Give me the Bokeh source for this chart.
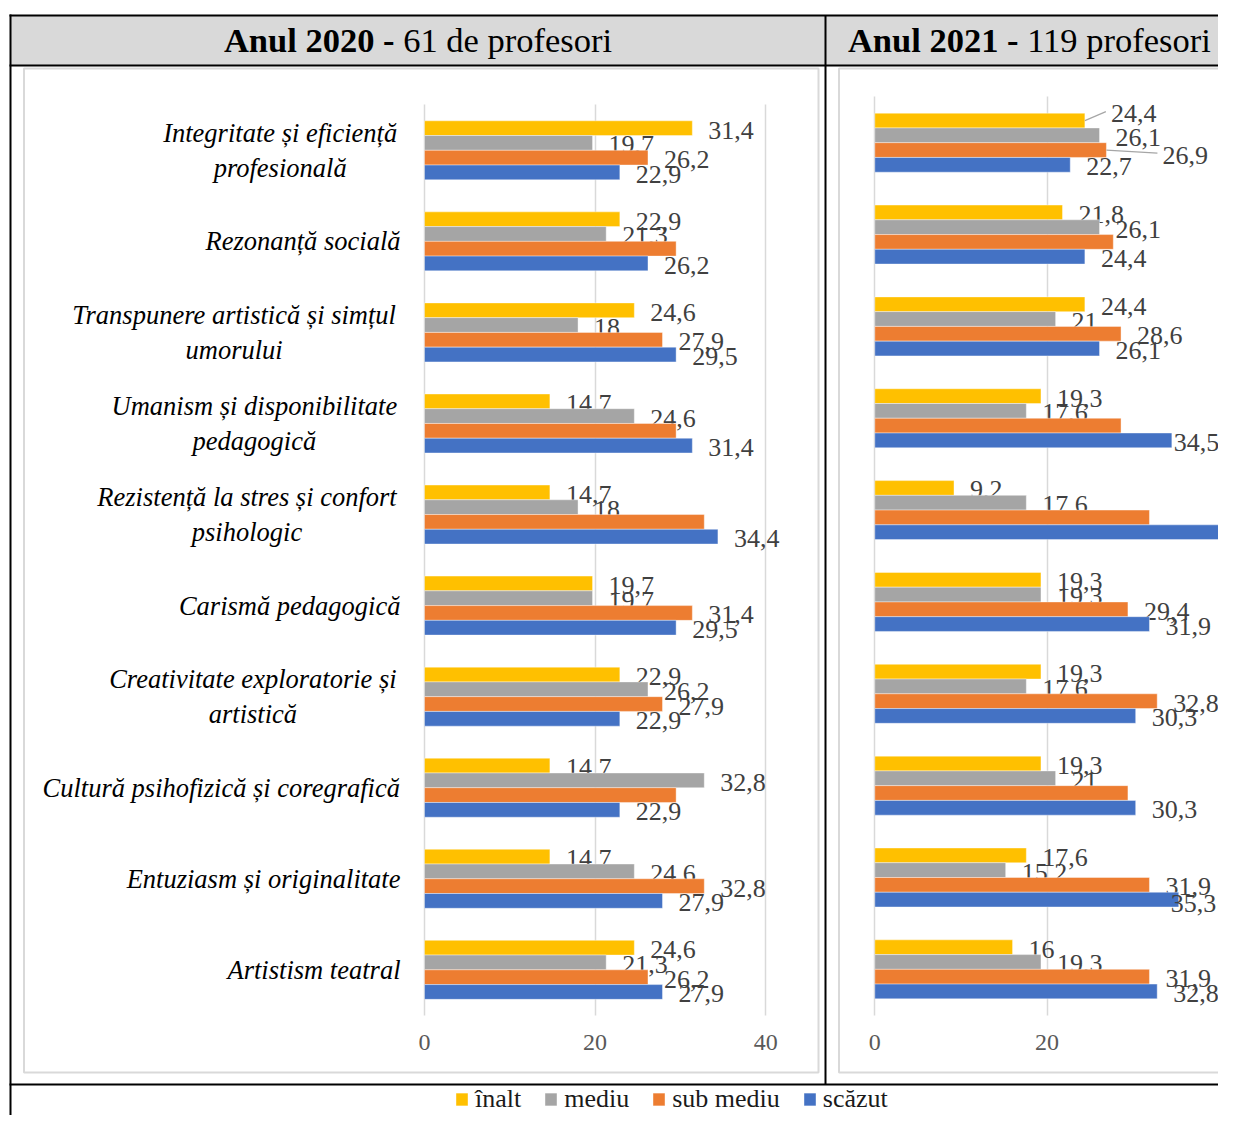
from bokeh.plotting import figure
from bokeh.models import (Range1d, ColumnDataSource, FixedTicker, Grid, LinearAxis,
                          Legend, LegendItem)
from bokeh.transform import dodge
from bokeh.core.properties import value
from bokeh.embed import file_html
from bokeh.resources import INLINE

# ---------------- data ----------------
CATEGORIES = [
    "Integritate și eficiență\nprofesională",
    "Rezonanță socială",
    "Transpunere artistică și simțul\numorului",
    "Umanism și disponibilitate\npedagogică",
    "Rezistență la stres și confort\npsihologic",
    "Carismă pedagogică",
    "Creativitate exploratorie și\nartistică",
    "Cultură psihofizică și coregrafică",
    "Entuziasm și originalitate",
    "Artistism teatral",
]
SERIES = ["înalt", "mediu", "sub mediu", "scăzut"]
TICKS = [0, 20, 40]
HEADER_BOLD = ["Anul 2020 -", "Anul 2021 -"]
HEADER_REG = ["61 de profesori", "119 profesori"]

Y2020_INALT = [31.4, 22.9, 24.6, 14.7, 14.7, 19.7, 22.9, 14.7, 14.7, 24.6]
Y2020_MEDIU = [19.7, 21.3, 18, 24.6, 18, 19.7, 26.2, 32.8, 24.6, 21.3]
Y2020_SUB = [26.2, 29.5, 27.9, 29.5, 32.8, 31.4, 27.9, 29.5, 32.8, 26.2]
Y2020_SCAZUT = [22.9, 26.2, 29.5, 31.4, 34.4, 29.5, 22.9, 22.9, 27.9, 27.9]

Y2021_INALT = [24.4, 21.8, 24.4, 19.3, 9.2, 19.3, 19.3, 19.3, 17.6, 16]
Y2021_MEDIU = [26.1, 26.1, 21, 17.6, 17.6, 19.3, 17.6, 21, 15.2, 19.3]
Y2021_SUB = [26.9, 27.7, 28.6, 28.6, 31.9, 29.4, 32.8, 29.4, 31.9, 31.9]
Y2021_SCAZUT = [22.7, 24.4, 26.1, 34.5, 41.2, 31.9, 30.3, 30.3, 35.3, 32.8]

# data labels that are not shown in the original (per series: category indices)
HIDDEN_2020 = {"sub mediu": [1, 3, 4, 7]}
HIDDEN_2021 = {"sub mediu": [1, 3, 4, 7], "scăzut": [4]}

# ---------------- style / layout ----------------
SERIF = "Liberation Serif"
COLORS = ["#FFC000", "#A5A5A5", "#ED7D31", "#4472C4"]
GRID_COLOR = "#D9D9D9"

X0, Y0 = 0, 0
W, H = 1218, 1115
X1, Y1 = X0 + W, Y0 + H

# Times / Liberation Serif advance widths (1/1000 em)
REG_W = {" ": 250, "-": 333, "d": 500, "e": 444, "p": 500, "r": 333, "o": 500,
         "f": 333, "s": 389, "i": 278}
BOLD_W = {" ": 250, "-": 333, "A": 722, "n": 556, "u": 556, "l": 278}
ITAL_W = {" ": 250, "a": 500, "b": 500, "c": 444, "d": 500, "e": 444, "f": 278,
          "g": 500, "h": 500, "i": 278, "j": 278, "k": 444, "l": 278, "m": 722,
          "n": 500, "o": 500, "p": 500, "q": 500, "r": 389, "s": 389, "t": 278,
          "u": 500, "v": 444, "w": 667, "x": 444, "y": 444, "z": 389,
          "ă": 500, "â": 500, "î": 278, "ș": 389, "ț": 278,
          "A": 611, "C": 667, "E": 611, "I": 333, "R": 611, "T": 556, "U": 722}


def text_w(s, table, size):
    return sum(table.get(c, 500) for c in s) * size / 1000.0


def fmt(v):
    return str(int(v)) if float(v).is_integer() else f"{v:.1f}".replace(".", ",")


CHARTS = [
    dict(name="L", series=[Y2020_INALT, Y2020_MEDIU, Y2020_SUB, Y2020_SCAZUT],
         hidden=HIDDEN_2020, x0=424.0, ppu=8.53, y0=149.8, pitch=91.06,
         nudges={}, leaders=[], cat_labels=True),
    dict(name="R", series=[Y2021_INALT, Y2021_MEDIU, Y2021_SUB, Y2021_SCAZUT],
         hidden=HIDDEN_2021, x0=874.3, ppu=8.61, y0=142.2, pitch=91.85,
         nudges={(0, "înalt"): (10, -9), (0, "sub mediu"): (40, 3),
                 (3, "scăzut"): (-14, 0), (8, "scăzut"): (-24, 2)},
         leaders=[(0, "înalt"), (0, "sub mediu")],
         cat_labels=False),
]
BAR_PX = 14.75
LABEL_GAP = 16

p = figure(width=W, height=H, x_range=Range1d(X0, X1), y_range=Range1d(Y1, Y0),
           x_axis_type=None, y_axis_type=None, toolbar_location=None,
           output_backend="svg", min_border=0, outline_line_color=None,
           background_fill_color="white", border_fill_color="white")

# ---------------- table frame ----------------
p.quad(left=[10], right=[X1 + 10], top=[15], bottom=[65],
       fill_color="#D9D9D9", line_color=None)
p.quad(left=[23.5, 838.5], right=[818, X1 + 20], top=[68, 68], bottom=[1072, 1072],
       fill_color=None, line_color=GRID_COLOR, line_width=2)
p.segment(x0=[9, 9, 10, 825, 9], y0=[15, 65, 14, 15, 1084],
          x1=[X1 + 10, X1 + 10, 10, 825, X1 + 10], y1=[15, 65, Y1 + 10, 1084, 1084],
          line_color="black", line_width=2)

for cx, b, r in zip([417.5, 1029.5], HEADER_BOLD, HEADER_REG):
    fs = 34.5
    wb, ws, wr = text_w(b, BOLD_W, fs), text_w(" ", REG_W, fs), text_w(r, REG_W, fs)
    start = cx - (wb + ws + wr) / 2
    p.text(x=[start], y=[39], text=[b], text_font=value(SERIF), text_font_style="bold",
           text_font_size=f"{fs}px", text_color="black", text_baseline="middle",
           text_align="left")
    p.text(x=[start + wb + ws], y=[39], text=[r], text_font=value(SERIF),
           text_font_size=f"{fs}px", text_color="black", text_baseline="middle",
           text_align="left")

# ---------------- charts ----------------
n = len(CATEGORIES)
idx = list(range(n))
ex, ey = {}, {}
for ch in CHARTS:
    ex[ch["name"]] = Range1d((X0 - ch["x0"]) / ch["ppu"], (X1 - ch["x0"]) / ch["ppu"])
    ey[ch["name"] + "Y"] = Range1d((Y1 - ch["y0"]) / ch["pitch"], (Y0 - ch["y0"]) / ch["pitch"])
p.extra_x_ranges = ex
p.extra_y_ranges = ey

has_cross = "cross_bounds" in Grid.properties()
legend_renderers = []
for ch in CHARTS:
    xn, yn = ch["name"], ch["name"] + "Y"
    gkw = dict(dimension=0, ticker=FixedTicker(ticks=TICKS), x_range_name=xn,
               y_range_name=yn, grid_line_color=GRID_COLOR, grid_line_width=1.5)
    if has_cross:
        gkw["cross_bounds"] = (-0.5, n - 0.5)
    p.add_layout(Grid(**gkw))

    ax = LinearAxis(x_range_name=xn, y_range_name=yn, fixed_location=n - 0.5,
                    ticker=FixedTicker(ticks=TICKS), axis_line_color=None,
                    major_tick_line_color=None, minor_tick_line_color=None,
                    major_label_text_font=SERIF, major_label_text_font_size="24px",
                    major_label_text_color="#595959", major_label_standoff=14)
    p.add_layout(ax, "below")

    bar_h = BAR_PX / ch["pitch"]
    for k, (s, vals, col) in enumerate(zip(SERIES, ch["series"], COLORS)):
        off = (k - 1.5) * bar_h
        src = ColumnDataSource(dict(idx=idx, val=vals))
        r = p.hbar(y=dodge("idx", off), left=0, right="val", height=bar_h, source=src,
                   fill_color=col, line_color="white", line_width=0.8, line_alpha=0.5,
                   x_range_name=xn, y_range_name=yn)
        if ch["name"] == "L":
            legend_renderers.append(r)

        hidden = set(ch["hidden"].get(s, []))
        rows = [i for i in idx if i not in hidden]
        xo, yo = [], []
        for i in rows:
            dx, dy = ch["nudges"].get((i, s), (0, 0))
            xo.append(LABEL_GAP + dx)
            yo.append(2 + dy)
        lsrc = ColumnDataSource(dict(idx=rows, val=[vals[i] for i in rows],
                                     text=[fmt(vals[i]) for i in rows], xo=xo, yo=yo))
        p.text(x="val", y=dodge("idx", off), text="text", x_offset="xo", y_offset="yo",
               source=lsrc, text_font=value(SERIF), text_font_size="26px",
               text_color="#404040", text_baseline="middle", text_align="left",
               x_range_name=xn, y_range_name=yn)
        # leader lines for moved labels
        lx0, ly0, lx1, ly1 = [], [], [], []
        for i in rows:
            if (i, s) in ch["leaders"]:
                dx, dy = ch["nudges"][(i, s)]
                lx0.append(vals[i]); ly0.append(i + off)
                lx1.append(vals[i] + (LABEL_GAP + dx - 5) / ch["ppu"])
                ly1.append(i + off + dy / ch["pitch"])
        if lx0:
            p.segment(x0=lx0, y0=ly0, x1=lx1, y1=ly1, line_color="#A6A6A6",
                      line_width=1.2, x_range_name=xn, y_range_name=yn)

    if ch["cat_labels"]:
        fs = 26.5
        offs = []
        for c in CATEGORIES:
            lines = c.split("\n")
            bw = text_w(lines[0], ITAL_W, fs) + (text_w(" ", ITAL_W, fs) if len(lines) > 1 else 0)
            offs.append(-(24 + bw / 2))
        csrc = ColumnDataSource(dict(idx=idx, cat=CATEGORIES, xo=offs))
        p.text(x=0, y="idx", text="cat", x_offset="xo", source=csrc,
               text_align="center", text_baseline="middle", text_font=value(SERIF),
               text_font_style="italic", text_font_size=f"{fs}px", text_line_height=1.15,
               text_color="black", x_range_name=xn, y_range_name=yn)

# ---------------- legend ----------------
legend = Legend(items=[LegendItem(label=value(s), renderers=[r])
                       for s, r in zip(SERIES, legend_renderers)],
                location=(454, 1), orientation="horizontal", glyph_width=15,
                glyph_height=16, label_standoff=6, spacing=22, padding=0, margin=0,
                border_line_color=None, background_fill_alpha=0,
                label_text_font=SERIF, label_text_font_size="26px",
                label_text_color="#1a1a1a")
p.add_layout(legend)

open("out.html", "w").write(file_html(p, INLINE))
